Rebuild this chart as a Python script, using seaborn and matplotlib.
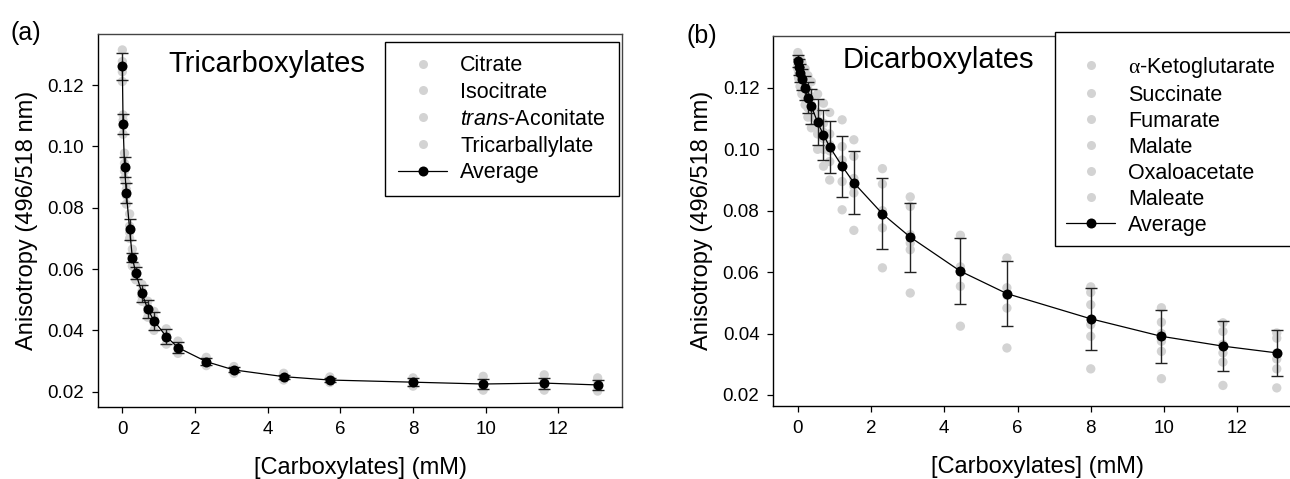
import numpy as np
import pandas as pd
import matplotlib
matplotlib.use("Agg")
import matplotlib.pyplot as plt
import seaborn as sns
from matplotlib.lines import Line2D

# concentrations (mM), shared by both titrations
conc = [0, 0.02, 0.06, 0.11, 0.2, 0.275, 0.37, 0.54, 0.7, 0.87,
        1.21, 1.53, 2.31, 3.07, 4.44, 5.71, 8.0, 9.93, 11.61, 13.08]

# (a) tricarboxylates
citrate = [0.1315, 0.1103, 0.0978, 0.0880, 0.0780, 0.0665, 0.0610, 0.0550, 0.0495, 0.0462,
           0.0405, 0.0365, 0.0312, 0.0282, 0.0260, 0.0248, 0.0245, 0.0250, 0.0255, 0.0245]
isocitrate = [0.1277, 0.1085, 0.0945, 0.0860, 0.0740, 0.0645, 0.0595, 0.0528, 0.0475, 0.0440,
              0.0385, 0.0350, 0.0302, 0.0273, 0.0252, 0.0240, 0.0235, 0.0228, 0.0232, 0.0225]
aconitate = [0.1244, 0.1068, 0.0920, 0.0840, 0.0720, 0.0630, 0.0580, 0.0512, 0.0462, 0.0425,
             0.0375, 0.0340, 0.0295, 0.0268, 0.0246, 0.0236, 0.0228, 0.0220, 0.0222, 0.0215]
tricarballylate = [0.1212, 0.1040, 0.0895, 0.0812, 0.0700, 0.0610, 0.0565, 0.0495, 0.0443, 0.0400,
                   0.0355, 0.0325, 0.0285, 0.0260, 0.0238, 0.0230, 0.0218, 0.0205, 0.0205, 0.0202]
tri_avg = [0.1261, 0.1074, 0.0934, 0.0848, 0.0730, 0.0637, 0.0587, 0.0521, 0.0469, 0.0431,
           0.0380, 0.0344, 0.0298, 0.0271, 0.0249, 0.0238, 0.0231, 0.0225, 0.0228, 0.0222]
tri_sd = [0.0045, 0.0032, 0.0033, 0.0034, 0.0034, 0.0015, 0.0020, 0.0028, 0.0030, 0.0030,
          0.0025, 0.0018, 0.0012, 0.0008, 0.0007, 0.0006, 0.0012, 0.0016, 0.0018, 0.0015]

# (b) dicarboxylates
ketoglutarate = [0.1315, 0.1305, 0.1295, 0.1282, 0.1262, 0.1240, 0.1220, 0.1180, 0.1150, 0.1120,
                 0.1096, 0.1031, 0.0937, 0.0845, 0.0720, 0.0646, 0.0552, 0.0484, 0.0435, 0.0402]
succinate = [0.1300, 0.1285, 0.1268, 0.1250, 0.1225, 0.1195, 0.1170, 0.1120, 0.1085, 0.1050,
             0.1009, 0.0977, 0.0887, 0.0814, 0.0617, 0.0549, 0.0534, 0.0437, 0.0407, 0.0385]
fumarate = [0.1290, 0.1272, 0.1255, 0.1235, 0.1205, 0.1175, 0.1145, 0.1095, 0.1055, 0.1015,
            0.0965, 0.0905, 0.0800, 0.0722, 0.0605, 0.0530, 0.0494, 0.0400, 0.0365, 0.0337]
malate = [0.1285, 0.1265, 0.1245, 0.1220, 0.1192, 0.1160, 0.1130, 0.1078, 0.1035, 0.0995,
          0.0944, 0.0880, 0.0785, 0.0695, 0.0600, 0.0524, 0.0429, 0.0375, 0.0337, 0.0317]
oxaloacetate = [0.1275, 0.1250, 0.1228, 0.1200, 0.1170, 0.1135, 0.1105, 0.1050, 0.1000, 0.0960,
                0.0895, 0.0858, 0.0744, 0.0673, 0.0554, 0.0483, 0.0391, 0.0342, 0.0307, 0.0285]
maleate = [0.1262, 0.1232, 0.1205, 0.1180, 0.1145, 0.1105, 0.1070, 0.1000, 0.0945, 0.0900,
           0.0803, 0.0736, 0.0614, 0.0532, 0.0424, 0.0353, 0.0285, 0.0253, 0.0231, 0.0223]
di_avg = [0.1287, 0.1268, 0.1249, 0.1228, 0.1200, 0.1168, 0.1140, 0.1088, 0.1047, 0.1008,
          0.0945, 0.0891, 0.0790, 0.0714, 0.0603, 0.0530, 0.0448, 0.0391, 0.0359, 0.0337]
di_sd = [0.0020, 0.0025, 0.0030, 0.0035, 0.0040, 0.0050, 0.0058, 0.0075, 0.0081, 0.0085,
         0.0099, 0.0102, 0.0115, 0.0112, 0.0108, 0.0106, 0.0100, 0.0087, 0.0082, 0.0074]

sns.set_style('ticks')
plt.rcParams['font.family'] = ['Liberation Sans', 'DejaVu Sans']
plt.rcParams['mathtext.fontset'] = 'custom'
plt.rcParams['mathtext.rm'] = 'Liberation Serif'
plt.rcParams['mathtext.it'] = 'Liberation Sans:italic'
plt.rcParams['text.color'] = 'black'
plt.rcParams['axes.labelcolor'] = 'black'
plt.rcParams['xtick.color'] = 'black'
plt.rcParams['ytick.color'] = 'black'

GREY = '#d3d3d3'


def long_form(series):
    rows = []
    for name, vals in series.items():
        for c, v in zip(conc, vals):
            rows.append({'compound': name, 'conc': c, 'aniso': v})
    return pd.DataFrame(rows)


def draw_panel(ax, series, avg, sd, title):
    df = long_form(series)
    sns.scatterplot(data=df, x='conc', y='aniso', hue='compound',
                    palette={k: GREY for k in series}, s=45, linewidth=0,
                    legend=False, ax=ax, zorder=2)
    ax.errorbar(conc, avg, yerr=sd, fmt='none', ecolor='#222222', elinewidth=1.0,
                capsize=4.5, capthick=1.0, zorder=3)
    sns.lineplot(x=conc, y=avg, color='black', linewidth=0.9, marker='o',
                 markersize=7.2, markeredgewidth=0, estimator=None, sort=False,
                 ax=ax, zorder=4)
    ax.set_xlim(-0.67, 13.75)
    ax.set_xticks([0, 2, 4, 6, 8, 10, 12])
    ax.set_yticks([0.02, 0.04, 0.06, 0.08, 0.10, 0.12])
    ax.yaxis.set_major_formatter(matplotlib.ticker.FormatStrFormatter('%.2f'))
    ax.tick_params(direction='out', length=4, width=0.9, labelsize=13.5, pad=6,
                   color='black', labelcolor='black')
    ax.set_xlabel('[Carboxylates] (mM)', fontsize=17, labelpad=14, color='black')
    ax.set_ylabel('Anisotropy (496/518 nm)', fontsize=17, labelpad=7, color='black')
    for side in ['left', 'bottom']:
        ax.spines[side].set_color('black')
        ax.spines[side].set_linewidth(1.0)
    for side in ['top', 'right']:
        ax.spines[side].set_color('#444444')
        ax.spines[side].set_linewidth(1.0)
    ax.text(0.134, 0.898, title, transform=ax.transAxes, fontsize=21,
            ha='left', va='baseline', color='black')


def legend_handles(names):
    handles = [Line2D([], [], linestyle='none', marker='o', markersize=6.5,
                      markerfacecolor=GREY, markeredgewidth=0) for _ in names]
    handles.append(Line2D([], [], color='black', linewidth=0.9, marker='o',
                          markersize=7.2, markeredgewidth=0))
    return handles, list(names) + ['Average']


fig = plt.figure(figsize=(12.9, 4.79), dpi=100)
ax1 = fig.add_axes([98 / 1290, 72 / 479, 524 / 1290, 373 / 479])
ax2 = fig.add_axes([773.3 / 1290, 73.3 / 479, 528 / 1290, 369.7 / 479])

tri = {'Citrate': citrate, 'Isocitrate': isocitrate,
       r'$\it{trans}$-Aconitate': aconitate, 'Tricarballylate': tricarballylate}
di = {r'$\mathrm{\alpha}$-Ketoglutarate': ketoglutarate, 'Succinate': succinate,
      'Fumarate': fumarate, 'Malate': malate, 'Oxaloacetate': oxaloacetate,
      'Maleate': maleate}

draw_panel(ax1, tri, tri_avg, tri_sd, 'Tricarboxylates')
ax1.set_ylim(0.0150, 0.1367)
draw_panel(ax2, di, di_avg, di_sd, 'Dicarboxylates')
ax2.set_ylim(0.0165, 0.1369)
ax2.texts[0].set_position((0.131, 0.913))

leg_kw = dict(loc='upper left', bbox_transform=fig.transFigure, borderaxespad=0,
              fontsize=15.5, frameon=True, fancybox=False, edgecolor='black',
              handlelength=2.3, handletextpad=0.6, labelcolor='black')
h, l = legend_handles(tri.keys())
lg1 = ax1.legend(h, l, bbox_to_anchor=(385 / 1290, 1 - 42.3 / 479),
                 labelspacing=0.27, borderpad=0.6, **leg_kw)
lg1.get_frame().set_linewidth(1.0)
lg1.get_frame().set_alpha(1)
h, l = legend_handles(di.keys())
lg2 = ax2.legend(h, l, bbox_to_anchor=(1055 / 1290, 1 - 248.3 / 479, 260 / 1290, 216 / 479),
                 mode='expand', labelspacing=0.23, borderpad=0.5,
                 title=' ', title_fontsize=6, **leg_kw)
lg2.get_frame().set_linewidth(1.0)
lg2.get_frame().set_alpha(1)

fig.text(10 / 1290, 1 - 40 / 479, '(a)', fontsize=18)
fig.text(687 / 1290, 1 - 43 / 479, '(b)', fontsize=18)

fig.savefig('out.png', dpi=100)
